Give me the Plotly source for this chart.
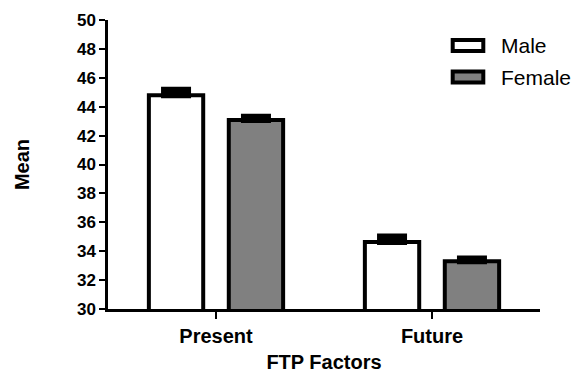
import plotly.graph_objects as go

# FTP factor means by gender, with standard error
categories = ["Present", "Future"]
series_names = ["Male", "Female"]
male_mean = [44.8, 34.64]
male_sem = [0.38, 0.38]
female_mean = [43.08, 33.30]
female_sem = [0.22, 0.19]
y_ticks = list(range(30, 51, 2))

FONT = "Arial, Liberation Sans, sans-serif"
fills = ["#ffffff", "#808080"]

W, H = 584, 373
L, R, T, B = 108, 44, 20, 64
pw, ph = W - L - R, H - T - B


def px_x(x):
    return (x - L) / pw


def px_y(y):
    return (H - B - y) / ph


fig = go.Figure()
for name, means, sems, fill in zip(series_names, [male_mean, female_mean],
                                   [male_sem, female_sem], fills):
    fig.add_trace(go.Bar(
        x=categories, y=means, base=0, name=name,
        marker=dict(color=fill, line=dict(color="black", width=4)),
        error_y=dict(type="data", array=sems, symmetric=False,
                     arrayminus=[0] * len(sems),
                     color="black", thickness=6, width=15),
        showlegend=False,
    ))

# Legend: outlined swatches with labels
shapes, annotations = [], []
for i, (name, fill) in enumerate(zip(series_names, fills)):
    yc = 45.5 + i * 31.5
    shapes.append(dict(type="rect", xref="paper", yref="paper",
                       x0=px_x(452.7), x1=px_x(483.3),
                       y0=px_y(yc - 5.5), y1=px_y(yc + 5.5),
                       line=dict(color="black", width=4), fillcolor=fill))
    annotations.append(dict(text=name, xref="paper", yref="paper",
                            x=px_x(499), y=px_y(yc), xanchor="left",
                            yanchor="middle", showarrow=False,
                            font=dict(family=FONT, size=21, color="black")))

fig.update_layout(
    template="none",
    width=W, height=H,
    margin=dict(l=L, r=R, t=T, b=B, pad=0),
    paper_bgcolor="white", plot_bgcolor="white",
    barmode="group", bargap=0.26, bargroupgap=0.32,
    shapes=shapes, annotations=annotations,
    font=dict(family=FONT, color="black"),
)
fig.update_xaxes(
    automargin=False,
    showline=True, linecolor="black", linewidth=2.5,
    ticks="outside", ticklen=7, tickwidth=2, tickcolor="black",
    tickfont=dict(family=FONT, size=20, weight="bold"),
    title=dict(text="FTP Factors", font=dict(family=FONT, size=20, weight="bold"),
               standoff=13),
    showgrid=False, zeroline=False, range=[-0.5, 1.5],
)
fig.update_yaxes(
    automargin=False,
    range=[30, 50], tickvals=y_ticks,
    showline=True, linecolor="black", linewidth=2.5,
    ticks="outside", ticklen=6, tickwidth=2, tickcolor="black",
    tickfont=dict(family=FONT, size=17, weight="bold"),
    title=dict(text="Mean", font=dict(family=FONT, size=20, weight="bold"),
               standoff=42),
    showgrid=False, zeroline=False,
)

fig.write_html("out.html")
